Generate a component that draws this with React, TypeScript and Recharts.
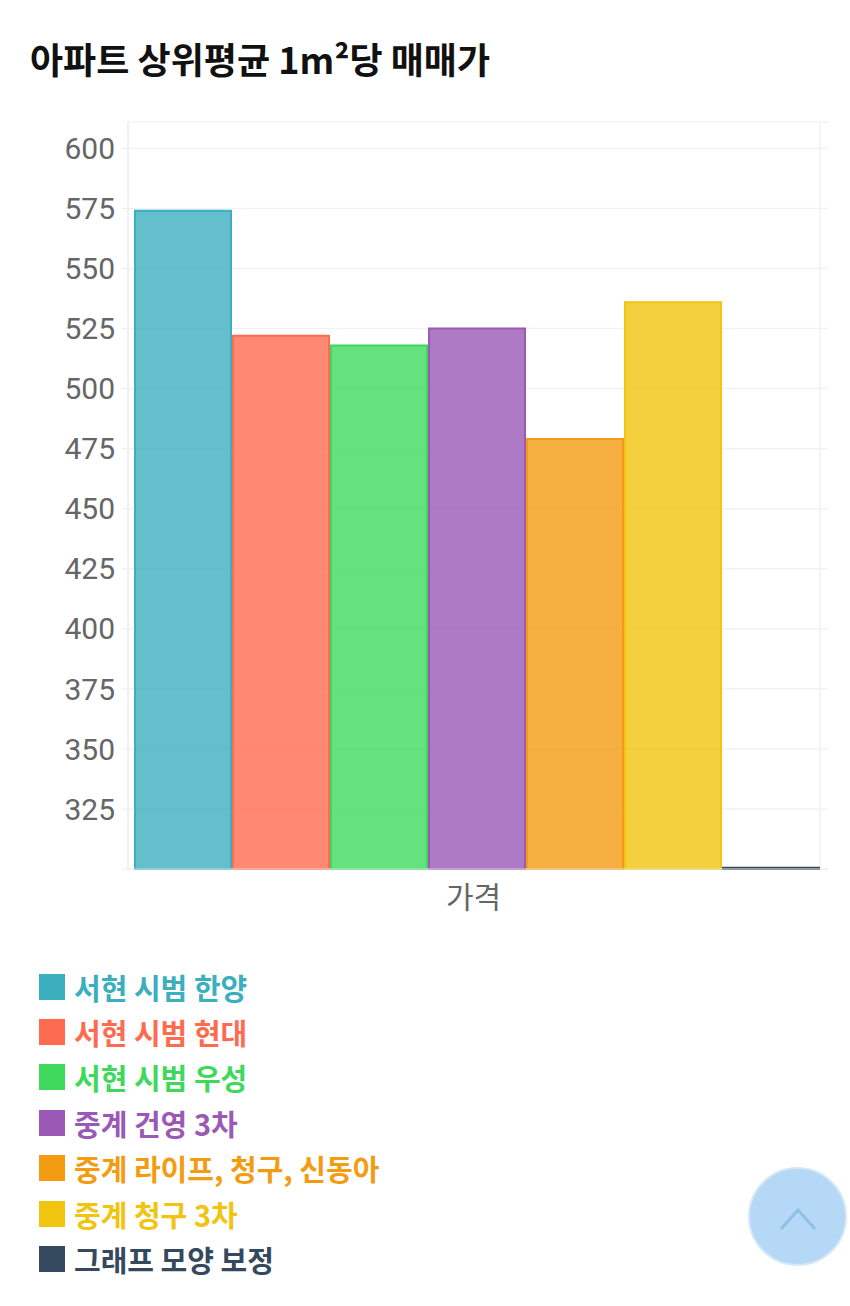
import { BarChart, Bar, XAxis, YAxis, CartesianGrid, Legend } from "recharts";

const seriesNames = [
  "서현 시범 한양",
  "서현 시범 현대",
  "서현 시범 우성",
  "중계 건영 3차",
  "중계 라이프, 청구, 신동아",
  "중계 청구 3차",
  "그래프 모양 보정",
];
const seriesValues = [574, 522, 518, 525, 479, 536, 300.5];
const seriesColors = ["#3cafbf", "#ff6b50", "#3ed95c", "#9b59b6", "#f39c12", "#f1c40f", "#34495e"];
const yTicks = [300, 325, 350, 375, 400, 425, 450, 475, 500, 525, 550, 575, 600];
const categoryLabel = "가격";

const chartData = [
  Object.fromEntries([["name", categoryLabel], ...seriesNames.map((n, i) => [n, seriesValues[i]])]),
];

const KR_FONT = '"Noto Sans CJK KR", "Noto Sans", sans-serif';

function LegendList({ payload }: any) {
  return (
    <div>
      {(payload ?? []).map((item: any) => (
        <div
          key={item.value}
          style={{ display: "flex", alignItems: "center", height: 45.4, color: item.color }}
        >
          <span style={{ width: 26, height: 26, marginRight: 9, background: item.color }} />
          <span style={{ fontFamily: KR_FONT, fontSize: 29, fontWeight: 700, whiteSpace: "nowrap" }}>
            {item.value}
          </span>
        </div>
      ))}
    </div>
  );
}

export default function App() {
  return (
    <div
      style={{
        position: "absolute",
        left: 0,
        top: 0,
        width: 850,
        height: 1306,
        background: "#fff",
        overflow: "hidden",
      }}
    >
      <div
        style={{
          position: "absolute",
          left: 30,
          top: 32,
          fontFamily: KR_FONT,
          fontSize: 36,
          fontWeight: 700,
          lineHeight: "52px",
          color: "#111",
          whiteSpace: "nowrap",
        }}
      >
        아파트 상위평균 1m²당 매매가
      </div>

      <BarChart
        width={850}
        height={1306}
        data={chartData}
        barSize={96}
        barGap={2}
        barCategoryGap={0}
        margin={{ top: 122, right: 22, left: 0, bottom: 377 }}
      >
        <CartesianGrid stroke="#f2f2f4" strokeWidth={1.5} verticalPoints={[128, 820]} />
        <XAxis
          dataKey="name"
          height={60}
          padding={{ left: 5, right: 8 }}
          axisLine={{ stroke: "#ececee" }}
          tickLine={false}
          tickMargin={12}
          tick={{ fill: "#666", fontSize: 30, fontFamily: KR_FONT, dx: -3 }}
        />
        <YAxis
          width={128}
          domain={[300, 611]}
          ticks={yTicks}
          interval={0}
          tickSize={6}
          tickMargin={7}
          axisLine={{ stroke: "#ececee" }}
          tickLine={{ stroke: "#ececee" }}
          tickFormatter={(v) => (v === 300 ? "" : String(v))}
          tick={{ fill: "#666", fontSize: 30, fontFamily: "Roboto, sans-serif" }}
        />
        <Legend
          layout="vertical"
          align="center"
          verticalAlign="middle"
          itemSorter={null}
          wrapperStyle={{ left: 39, top: 964, width: 500, height: 320 }}
          content={<LegendList />}
        />
        {seriesNames.map((name, i) => (
          <Bar
            key={name}
            dataKey={name}
            fill={seriesColors[i]}
            fillOpacity={0.8}
            stroke={seriesColors[i]}
            strokeWidth={2}
            isAnimationActive={false}
          />
        ))}
      </BarChart>

      <div
        style={{
          position: "absolute",
          left: 748,
          top: 1167,
          width: 99,
          height: 99,
          boxSizing: "border-box",
          borderRadius: "50%",
          background: "#b4d8f6",
          border: "2px solid #d5e8f8",
        }}
      >
        <svg width={95} height={95} style={{ display: "block" }}>
          <polyline points="31,60 48,41 65,60" fill="none" stroke="#8fc0e6" strokeWidth={3} />
        </svg>
      </div>
    </div>
  );
}
